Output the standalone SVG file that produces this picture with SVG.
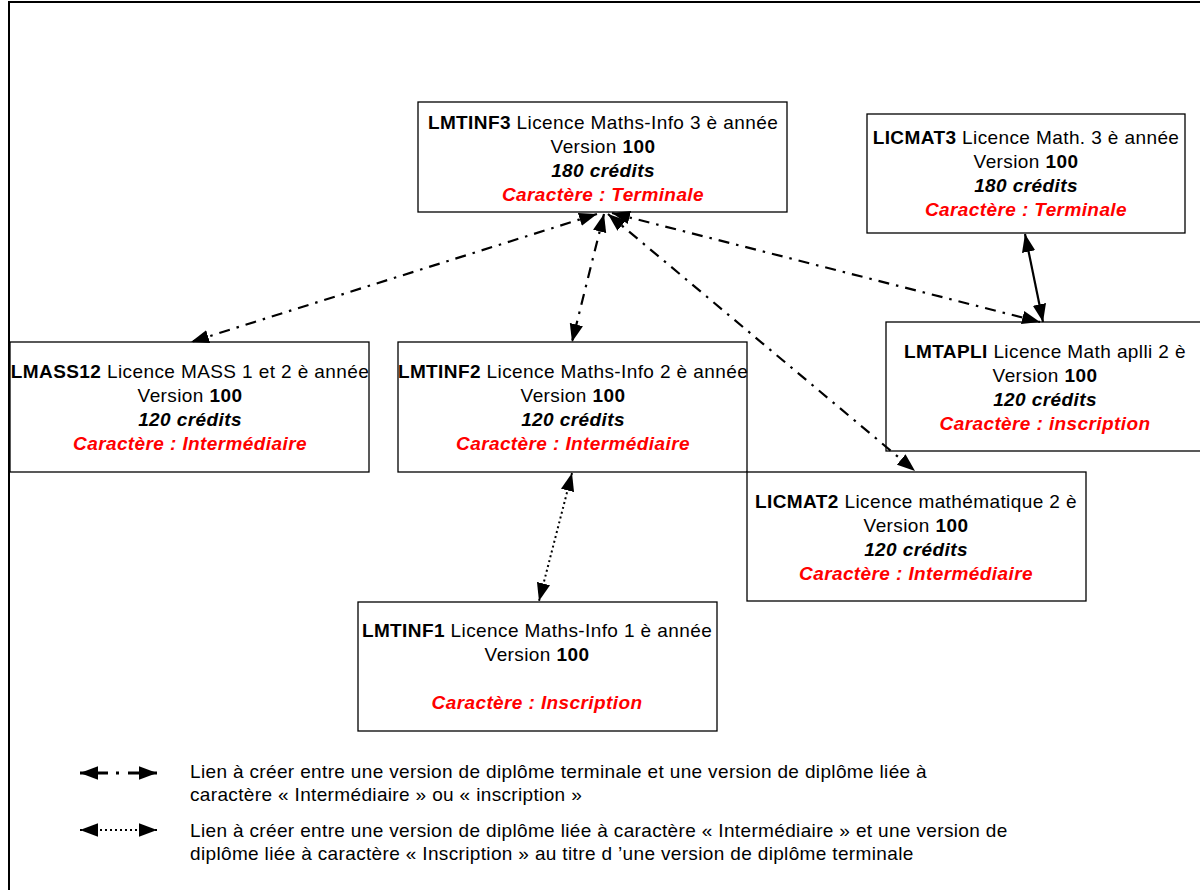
<svg xmlns="http://www.w3.org/2000/svg" width="1200" height="890" viewBox="0 0 1200 890">
<style>
.box{fill:#fff;stroke:#000;stroke-width:1.3}
.t{font-family:"Liberation Sans",Arial,Helvetica,sans-serif;font-size:19px;letter-spacing:0.4px;fill:#000;text-anchor:middle}
.b{font-weight:bold}
.bi{font-weight:bold;font-style:italic}
.red{fill:#ff0000;font-weight:bold;font-style:italic}
.lg{font-family:"Liberation Sans",Arial,Helvetica,sans-serif;font-size:19px;letter-spacing:0.35px;fill:#000}
.dd{fill:none;stroke:#000;stroke-width:2.2;stroke-dasharray:11 7 2.5 7;marker-start:url(#ah);marker-end:url(#ah)}
.dt{fill:none;stroke:#000;stroke-width:2;stroke-dasharray:2 3;marker-start:url(#ah);marker-end:url(#ah)}
.sl{fill:none;stroke:#000;stroke-width:2.2;marker-start:url(#ah);marker-end:url(#ah)}
</style>
<defs>
<marker id="ah" markerUnits="userSpaceOnUse" markerWidth="18" markerHeight="14" viewBox="0 0 16 12" refX="16" refY="6" orient="auto-start-reverse">
<path d="M0,0 L16,6 L0,12 Z" fill="#000"/>
</marker>
</defs>
<rect x="9" y="2" width="1200" height="900" fill="#fff" stroke="#000" stroke-width="2"/>

<g id="LMTINF3">
<rect class="box" x="418" y="102" width="369" height="110"/>
<text class="t" x="603" y="129"><tspan class="b">LMTINF3</tspan> Licence Maths-Info 3 è année</text>
<text class="t" x="603" y="153">Version <tspan class="b">100</tspan></text>
<text class="t bi" x="603" y="177">180 crédits</text>
<text class="t red" x="603" y="201">Caractère : Terminale</text>
</g>

<g id="LICMAT3">
<rect class="box" x="867" y="114" width="318" height="119"/>
<text class="t" x="1026" y="144"><tspan class="b">LICMAT3</tspan> Licence Math. 3 è année</text>
<text class="t" x="1026" y="168">Version <tspan class="b">100</tspan></text>
<text class="t bi" x="1026" y="192">180 crédits</text>
<text class="t red" x="1026" y="216">Caractère : Terminale</text>
</g>

<g id="LMTAPLI">
<rect class="box" x="886" y="322" width="320" height="129"/>
<text class="t" x="1045" y="358"><tspan class="b">LMTAPLI</tspan> Licence Math aplli 2 è</text>
<text class="t" x="1045" y="382">Version <tspan class="b">100</tspan></text>
<text class="t bi" x="1045" y="406">120 crédits</text>
<text class="t red" x="1045" y="430">Caractère : inscription</text>
</g>

<g id="LMASS12">
<rect class="box" x="10" y="342" width="359" height="130"/>
<text class="t" x="190" y="378"><tspan class="b">LMASS12</tspan> Licence MASS 1 et 2 è année</text>
<text class="t" x="190" y="402">Version <tspan class="b">100</tspan></text>
<text class="t bi" x="190" y="426">120 crédits</text>
<text class="t red" x="190" y="450">Caractère : Intermédiaire</text>
</g>

<g id="LMTINF2">
<rect class="box" x="398" y="342" width="349" height="130"/>
<text class="t" x="573" y="378"><tspan class="b">LMTINF2</tspan> Licence Maths-Info 2 è année</text>
<text class="t" x="573" y="402">Version <tspan class="b">100</tspan></text>
<text class="t bi" x="573" y="426">120 crédits</text>
<text class="t red" x="573" y="450">Caractère : Intermédiaire</text>
</g>

<g id="LICMAT2">
<rect class="box" x="747" y="472" width="339" height="129"/>
<text class="t" x="916" y="508"><tspan class="b">LICMAT2</tspan> Licence mathématique 2 è</text>
<text class="t" x="916" y="532">Version <tspan class="b">100</tspan></text>
<text class="t bi" x="916" y="556">120 crédits</text>
<text class="t red" x="916" y="580">Caractère : Intermédiaire</text>
</g>

<g id="LMTINF1">
<rect class="box" x="358" y="602" width="359" height="129"/>
<text class="t" x="537" y="637"><tspan class="b">LMTINF1</tspan> Licence Maths-Info 1 è année</text>
<text class="t" x="537" y="661">Version <tspan class="b">100</tspan></text>
<text class="t red" x="537" y="709">Caractère : Inscription</text>
</g>

<g id="connectors">
<path class="dd" d="M597,214 L191,342"/>
<path class="dd" d="M604,214 L572,342"/>
<path class="dd" d="M612,213 L1040,322"/>
<path class="dd" d="M608,214 L915,471"/>
<path class="sl" d="M1025,234 L1043,322"/>
<path class="dt" d="M572,473 L539,601"/>
</g>

<g id="legend">
<path class="dd" d="M80,773 L157,773" style="stroke-width:3;stroke-dasharray:28 8 3 9 40"/>
<text class="lg" x="190" y="778">Lien à créer entre une version de diplôme terminale et une version de diplôme liée à</text>
<text class="lg" x="190" y="801">caractère « Intermédiaire » ou « inscription »</text>
<path class="dt" d="M80,830 L157,830"/>
<text class="lg" x="190" y="837">Lien à créer entre une version de diplôme liée à caractère « Intermédiaire » et une version de</text>
<text class="lg" x="190" y="860">diplôme liée à caractère « Inscription » au titre d ’une version de diplôme terminale</text>
</g>
</svg>
